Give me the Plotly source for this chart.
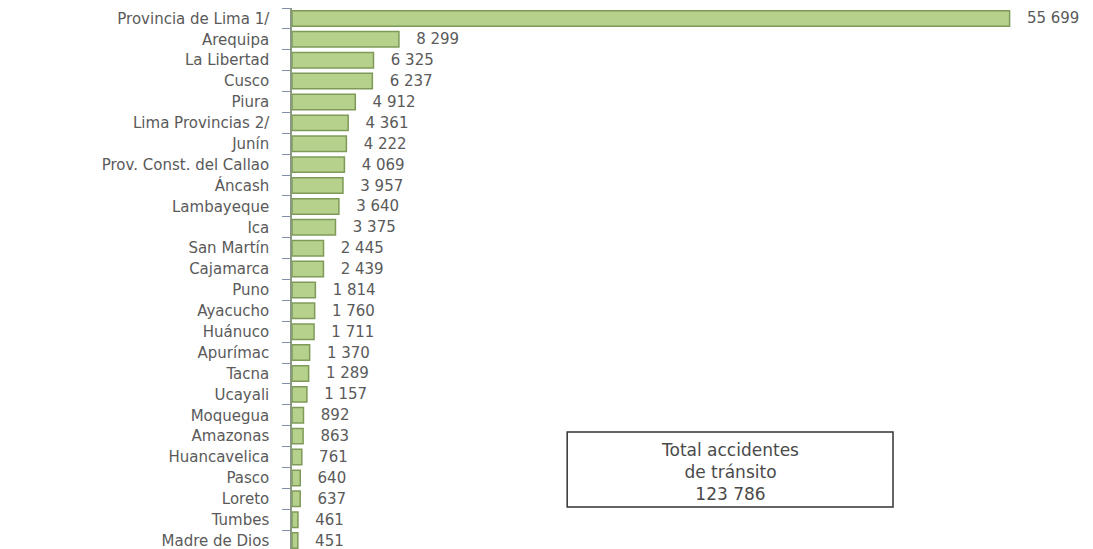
import plotly.graph_objects as go

regiones = [
    "Provincia de Lima 1/", "Arequipa", "La Libertad", "Cusco", "Piura",
    "Lima Provincias 2/", "Junín", "Prov. Const. del Callao", "Áncash",
    "Lambayeque", "Ica", "San Martín", "Cajamarca", "Puno", "Ayacucho",
    "Huánuco", "Apurímac", "Tacna", "Ucayali", "Moquegua", "Amazonas",
    "Huancavelica", "Pasco", "Loreto", "Tumbes", "Madre de Dios",
]
accidentes = [
    55699, 8299, 6325, 6237, 4912, 4361, 4222, 4069, 3957, 3640, 3375,
    2445, 2439, 1814, 1760, 1711, 1370, 1289, 1157, 892, 863, 761, 640,
    637, 461, 451,
]
total_texto = ["Total accidentes", "de tránsito", "123 786"]

fig = go.Figure()
fig.add_trace(go.Bar(
    x=accidentes,
    y=regiones,
    orientation="h",
    marker=dict(color="#b6d18c", line=dict(color="#7f9a58", width=1.5)),
    texttemplate="\u00a0\u00a0\u00a0%{x:,}",
    textposition="outside",
    constraintext="none",
    cliponaxis=False,
    textfont=dict(family="DejaVu Sans", size=15, color="#5a5a5a"),
    width=0.74,
    hoverinfo="skip",
))

fig.update_layout(
    width=1093, height=549,
    margin=dict(l=284, r=36, t=0, b=6),
    paper_bgcolor="white", plot_bgcolor="white",
    separators=". ",
    showlegend=False,
    xaxis=dict(range=[0, 60000], visible=False),
    yaxis=dict(
        type="category",
        autorange="reversed",
        showline=True, linecolor="#8a9a80", linewidth=1.5,
        ticks="outside", ticklen=8, tickcolor="#8090aa", tickwidth=1,
        tickson="boundaries",
        ticklabelstandoff=18,
        tickfont=dict(family="DejaVu Sans", size=15, color="#5a5a5a"),
        showgrid=False,
    ),
)

fig.add_shape(
    type="rect", xref="paper", yref="paper",
    x0=0.356, x1=0.7775, y0=0.081, y1=0.219,
    line=dict(color="#333333", width=1.5), fillcolor="white",
)
fig.add_annotation(
    xref="paper", yref="paper", x=0.567, y=0.1455,
    xanchor="center", yanchor="middle",
    text="<br>".join(total_texto), showarrow=False,
    font=dict(family="DejaVu Sans", size=17, color="#4a4a4a"),
    align="center",
)

fig.write_html("out.html")
